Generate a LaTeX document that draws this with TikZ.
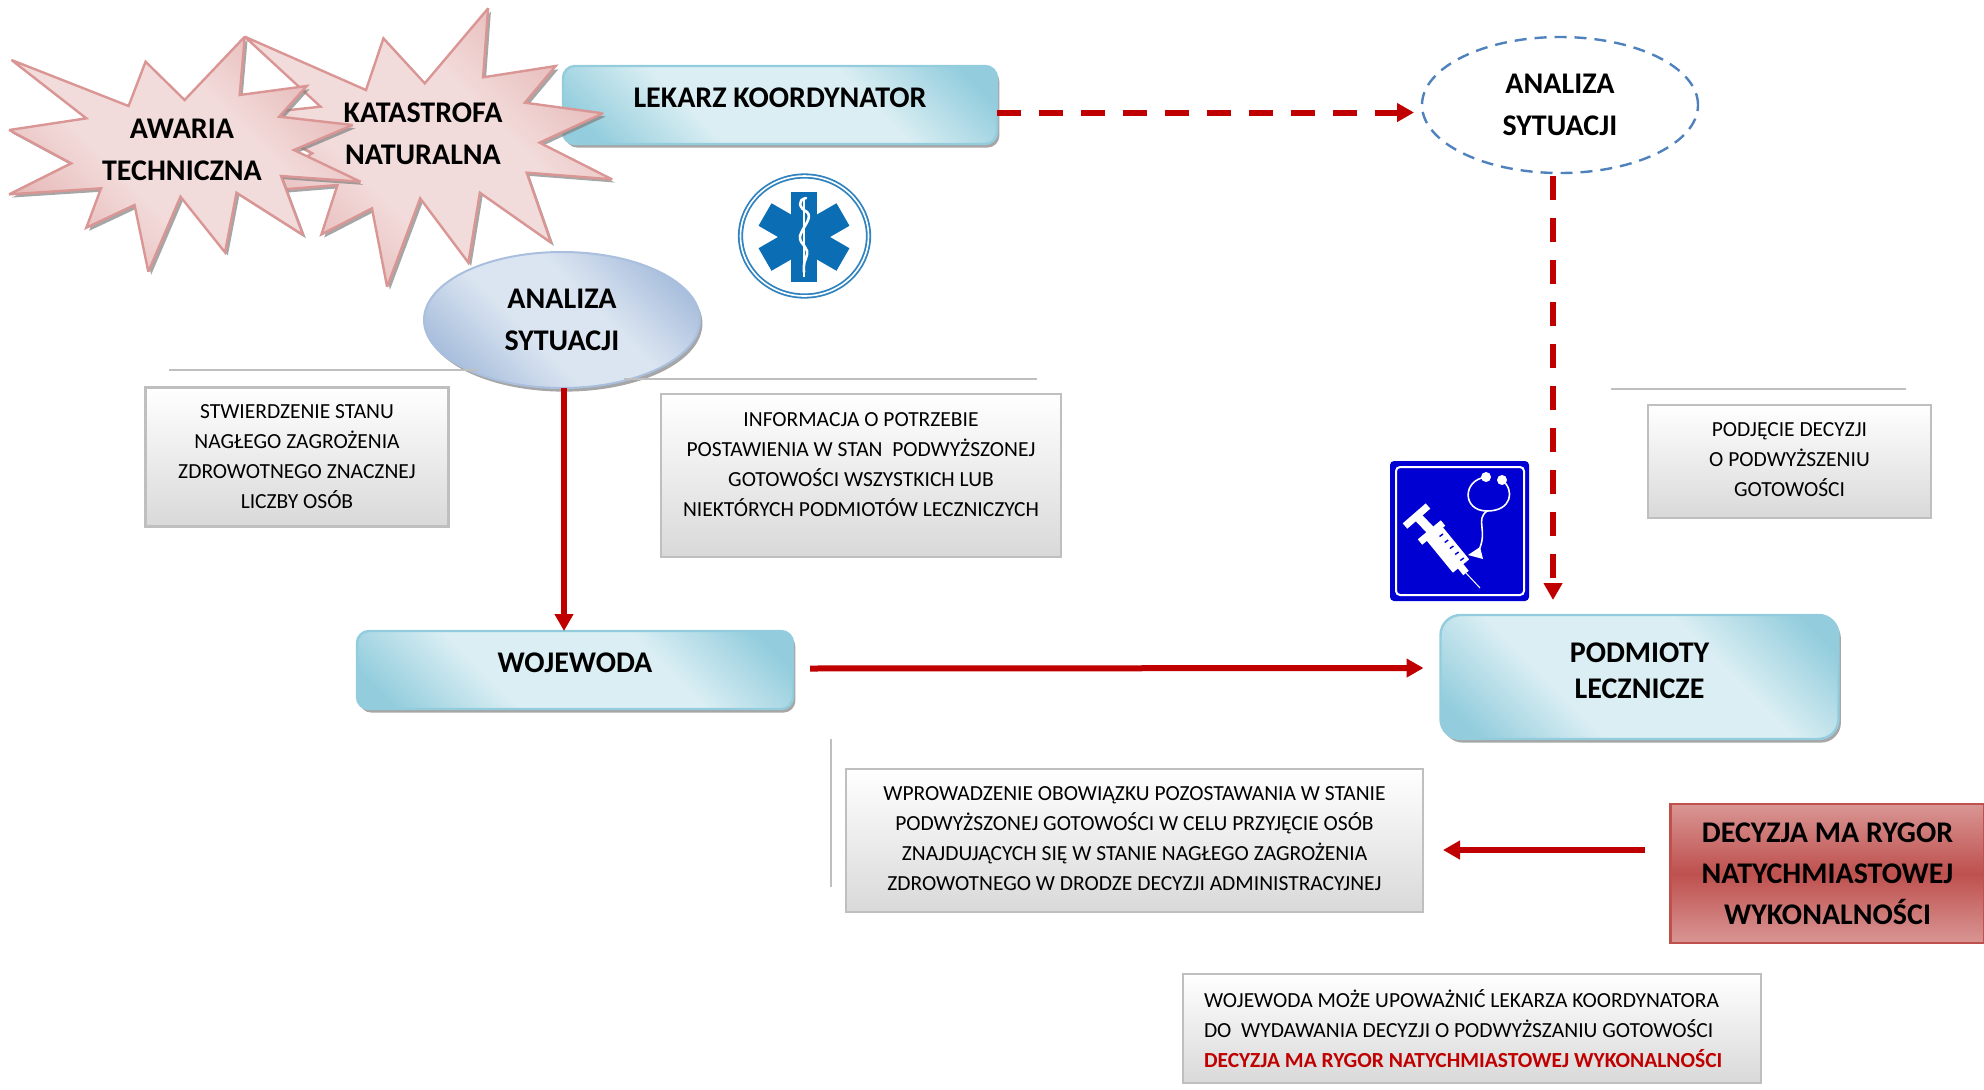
\documentclass[tikz,border=0pt]{standalone}
\usepackage{fontspec}
\setmainfont{Carlito}
\usetikzlibrary{arrows.meta,calc,shadows,shapes.geometric}

\definecolor{tealdark}{HTML}{93CDDD}
\definecolor{teallight}{HTML}{DAEEF3}
\definecolor{pinkdark}{HTML}{E2ADAC}
\definecolor{pinklight}{HTML}{F2DCDB}
\definecolor{bluedark}{HTML}{A9BFDD}
\definecolor{bluelight}{HTML}{DBE5F1}
\definecolor{reddark}{HTML}{C00000}
\definecolor{rygormid}{HTML}{BE514E}
\definecolor{rygorlight}{HTML}{D99694}
\definecolor{emsblue}{HTML}{0B6DB4}
\definecolor{dashblue}{HTML}{4F81BD}
\definecolor{signblue}{HTML}{0000D2}

\pgfdeclareverticalshading{tealband}{100bp}{color(0bp)=(tealdark); color(20bp)=(tealdark); color(37bp)=(teallight); color(63bp)=(teallight); color(80bp)=(tealdark); color(100bp)=(tealdark)}
\pgfdeclareverticalshading{pinkband}{100bp}{color(0bp)=(pinkdark); color(20bp)=(pinkdark); color(40bp)=(pinklight); color(60bp)=(pinklight); color(80bp)=(pinkdark); color(100bp)=(pinkdark)}
\pgfdeclareverticalshading{blueband}{100bp}{color(0bp)=(bluedark); color(24bp)=(bluedark); color(42bp)=(bluelight); color(58bp)=(bluelight); color(76bp)=(bluedark); color(100bp)=(bluedark)}

\begin{document}
\begin{tikzpicture}[x=0.5pt,y=-0.5pt]
    \tikzstyle{shadowed}=[drop shadow={shadow xshift=1.2pt,shadow yshift=-1.8pt,fill=black!50,opacity=.7}]
    \tikzstyle{head}=[font=\fontsize{15}{21}\selectfont\bfseries, align=center, inner sep=0pt, outer sep=0pt]
    \tikzstyle{teal}=[head, rectangle, draw=tealdark, line width=1.2pt, shading=tealband, shading angle=-45, shadowed]
    \tikzstyle{greybox}=[rectangle, draw=black!25, line width=1.2pt, top color=white, bottom color=black!15, font=\fontsize{10.75}{15}\selectfont, align=center, inner sep=0pt, outer sep=0pt]
    \tikzstyle{sepline}=[draw=black!25, line width=1pt]
    \tikzstyle{burst}=[draw=rygorlight, line width=1.2pt, miter limit=3, shading=pinkband, shading angle=-45, drop shadow={shadow xshift=1.4pt,shadow yshift=-1.6pt,fill=black!50,opacity=.7}]
    \tikzstyle{solidarrow}=[draw=reddark, line width=3pt, -{Triangle[length=8.5pt,width=9pt]}]
    \tikzstyle{dasharrow}=[solidarrow, dash pattern=on 12pt off 9pt]

    \useasboundingbox (0,0) rectangle (1984,1089);

    \node[teal, minimum width=217pt, minimum height=39pt, rounded corners=6pt, text depth=7pt] (lekarz) at (780,105) {LEKARZ KOORDYNATOR};

    \begin{scope}[x=0.2296pt,y=-0.16667pt]
        \path[burst] (533,110) -- (797,270) -- (835,115) -- (925,250) -- (1063,25) -- (1052,232) -- (1210,198) -- (1143,308) -- (1313,340) -- (1175,428) -- (1333,538) -- (1147,518) -- (1200,728) -- (1045,578) -- (1020,788) -- (915,595) -- (843,860) -- (810,625) -- (700,703) -- (735,555) -- (530,578) -- (680,460) -- (530,345) -- (698,320) -- cycle;
        \path[burst] (25,180) -- (280,318) -- (317,185) -- (402,300) -- (533,110) -- (522,285) -- (668,258) -- (608,350) -- (768,375) -- (640,450) -- (785,545) -- (612,528) -- (660,705) -- (515,578) -- (490,757) -- (393,590) -- (323,815) -- (293,615) -- (188,683) -- (220,565) -- (20,583) -- (155,490) -- (20,390) -- (188,355) -- cycle;
    \end{scope}
    \node[head] (katastrofa) at (423,134) {KATASTROFA\\NATURALNA};
    \node[head] (awaria) at (182,150) {AWARIA\\TECHNICZNA};

    \node[head, ellipse, draw=bluedark, line width=1pt, shading=blueband, shading angle=-45, shadowed, minimum width=138pt, minimum height=68pt] (analizaL) at (562,320) {ANALIZA\\SYTUACJI};
    \node[head, ellipse, draw=dashblue, line width=1.2pt, dash pattern=on 6pt off 4pt, minimum width=138pt, minimum height=68pt] (analizaR) at (1560,105) {ANALIZA\\SYTUACJI};

    \node[teal, minimum width=218pt, minimum height=39pt, rounded corners=6pt, text depth=7pt] (wojewoda) at (575,670) {WOJEWODA};
    \node[teal, font=\fontsize{15}{18}\selectfont\bfseries, minimum width=199pt, minimum height=62pt, rounded corners=10pt, text depth=6pt] (podmioty) at (1639.5,677) {PODMIOTY\\LECZNICZE};

    \node[rectangle, draw=rygormid, line width=1.2pt, top color=rygorlight, bottom color=rygorlight, middle color=rygormid, head, font=\fontsize{15}{20.5}\selectfont\bfseries, minimum width=157pt, minimum height=69.5pt] (decyzja) at (1827.5,873.5) {DECYZJA MA RYGOR\\NATYCHMIASTOWEJ\\WYKONALNOŚCI};

    \node[greybox, minimum width=151.5pt, minimum height=69.5pt] (stan) at (297,457) {STWIERDZENIE STANU\\NAGŁEGO ZAGROŻENIA\\ZDROWOTNEGO ZNACZNEJ\\LICZBY OSÓB};
    \node[greybox, minimum width=200pt, minimum height=81.5pt, text depth=10.5pt] (informacja) at (861,475.5) {INFORMACJA O POTRZEBIE\\POSTAWIENIA W STAN\ \ PODWYŻSZONEJ\\GOTOWOŚCI WSZYSTKICH LUB\\NIEKTÓRYCH PODMIOTÓW LECZNICZYCH};
    \node[greybox, minimum width=141.5pt, minimum height=56.5pt, text depth=1.5pt] (podjecie) at (1789.5,461.5) {PODJĘCIE DECYZJI\\O PODWYŻSZENIU\\GOTOWOŚCI};
    \node[greybox, minimum width=288.5pt, minimum height=71.5pt, text depth=1.5pt] (obowiazek) at (1134.5,840.5) {WPROWADZENIE OBOWIĄZKU POZOSTAWANIA W STANIE\\PODWYŻSZONEJ GOTOWOŚCI W CELU PRZYJĘCIE OSÓB\\ZNAJDUJĄCYCH SIĘ W STANIE NAGŁEGO ZAGROŻENIA\\ZDROWOTNEGO W DRODZE DECYZJI ADMINISTRACYJNEJ};
    \node[greybox, minimum width=289pt, minimum height=54.5pt, align=flush left, text width=268pt] (upowaznic) at (1472,1028.5) {WOJEWODA MOŻE UPOWAŻNIĆ LEKARZA KOORDYNATORA\\DO\ \ WYDAWANIA DECYZJI O PODWYŻSZANIU GOTOWOŚCI\\\textcolor{reddark}{\textbf{DECYZJA MA RYGOR NATYCHMIASTOWEJ WYKONALNOŚCI}}};

    \coordinate (lineA) at (169,370);
    \coordinate (lineB) at (478,370);
    \coordinate (lineC) at (624,379);
    \coordinate (lineD) at (1037,379);
    \coordinate (lineE) at (1611,389);
    \coordinate (lineF) at (1906,389);
    \coordinate (lineG) at (831,739);
    \coordinate (lineH) at (831,887);
    \draw[sepline] (lineA) -- (lineB);
    \draw[sepline] (lineC) -- (lineD);
    \draw[sepline] (lineE) -- (lineF);
    \draw[sepline] (lineG) -- (lineH);

    \node[ellipse, draw=emsblue!85!white, line width=.9pt, double, double distance=.8pt, minimum width=64pt, minimum height=60pt, inner sep=0pt] (logo) at (804.5,236) {};
    \foreach \a in {0,60,120}
        \fill[emsblue, rotate around={\a:(804,237)}] (791,192) rectangle (817,282);
    \draw[white, line width=.6pt] (804,200) -- (804,277);
    \draw[white, line width=1.3pt, line cap=round] (806,198) .. controls (797,200) and (799,208) .. (807,212) .. controls (813,218) and (803,226) .. (800,236) .. controls (799,246) and (811,246) .. (806,258) .. controls (803,264) and (804,270) .. (804,272);

    \node[rectangle, rounded corners=2pt, fill=signblue, minimum width=69.5pt, minimum height=70pt, inner sep=0pt] (sign) at (1459.5,531) {};
    \draw[white, line width=1pt, rounded corners=2pt] (1396,467) rectangle (1524,595);
    \draw[white, line width=3.5pt] (1405,526) -- (1428,506);
    \draw[white, line width=3.5pt] (1420,542) -- (1443,523);
    \draw[white, line width=4.5pt] (1417,516) -- (1437,537);
    \draw[white, line width=10.5pt] (1434,533) -- (1461,566);
    \draw[white, line width=3.5pt] (1458,563) -- (1466,573);
    \draw[white, line width=.5pt] (1466,573) -- (1480,588);
    \foreach \s in {0,1,2,3,4}
        \draw[signblue, line width=.7pt] (1443+5.2*\s,534+6*\s) -- ++(-3.5,2.5);
    \draw[white, line width=.8pt] (1486,477) .. controls (1462,480) and (1462,511) .. (1487,511);
    \draw[white, line width=.8pt] (1502,480) .. controls (1515,490) and (1512,511) .. (1487,511) .. controls (1475,520) and (1488,530) .. (1479,550);
    \fill[white] (1468,555) -- (1483,559) -- (1480,547) -- cycle;
    \fill[white] (1486,477) circle[radius=5] (1502,480) circle[radius=5];

    \draw[dasharrow, shorten >=4pt] ([yshift=-3.75pt]lekarz.east) -- ([yshift=-3.75pt]analizaR.west);
    \draw[dasharrow, shorten >=7.5pt, shorten <=1.5pt] ([xshift=-3.5pt]analizaR.south) -- ([xshift=-43.25pt]podmioty.north);
    \draw[solidarrow] ([xshift=1pt]analizaL.south) -- ([xshift=-5.5pt]wojewoda.north);
    \draw[solidarrow, shorten <=8.5pt, shorten >=8.5pt] ([yshift=.75pt]wojewoda.east) -- ([yshift=4.5pt]podmioty.west);
    \draw[solidarrow, shorten <=13pt, shorten >=10pt] ([yshift=11.75pt]decyzja.west) -- ([yshift=-4.75pt]obowiazek.east);
\end{tikzpicture}
\end{document}
